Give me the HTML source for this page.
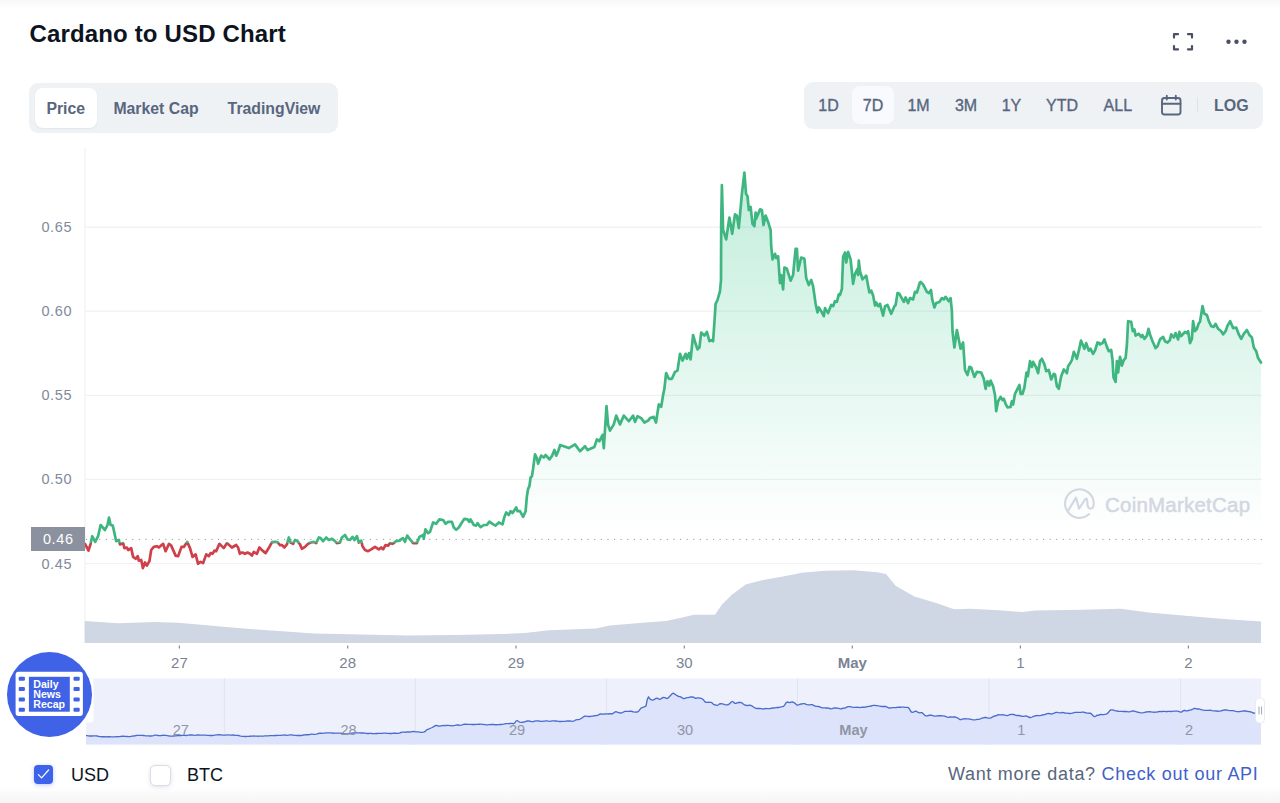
<!DOCTYPE html>
<html lang="en">
<head>
<meta charset="utf-8">
<title>Cardano to USD Chart</title>
<style>
*{box-sizing:border-box;margin:0;padding:0}
html,body{width:1280px;height:803px;overflow:hidden;background:#fff}
body{position:relative;font-family:"Liberation Sans",Arial,sans-serif;color:#0d1421}
.abs{position:absolute}
.topshade{left:0;top:0;width:1280px;height:10px;background:linear-gradient(#f8f8f8,#fff)}
.botshade{left:0;top:786px;width:1280px;height:17px;background:linear-gradient(#fff,#f5f5f5)}
h1{position:absolute;left:29.5px;top:19px;font-size:24px;line-height:30px;font-weight:700;color:#0d1421;letter-spacing:.15px;white-space:nowrap}
.tabs{left:29px;top:83px;width:309px;height:49.5px;border-radius:9px;background:#eff2f5}
.tab{position:absolute;top:5px;height:40px;line-height:42px;font-size:15.8px;font-weight:700;color:#58667e;text-align:center;white-space:nowrap;border-radius:8px}
.tab.on{background:#fff;box-shadow:0 1px 2px rgba(128,138,157,.12)}
.range{left:804px;top:81.5px;width:458.5px;height:47.5px;border-radius:9px;background:#eff2f5}
.r{position:absolute;top:4.5px;height:38px;line-height:40.4px;font-size:16px;color:#58667e;text-align:center;white-space:nowrap;border-radius:8px;transform:translateX(-50%);-webkit-text-stroke:0.35px #58667e}
.r.on{background:#f8fafd;width:42px}
.r.b{font-weight:700;-webkit-text-stroke:0}
.ylab{position:absolute;left:30px;width:53px;text-align:center;font-size:14.5px;color:#808a9d;line-height:16px;transform:translateY(-50%);letter-spacing:.65px;text-indent:.65px}
.xlab{position:absolute;top:654px;font-size:15px;color:#7a8394;line-height:18px;transform:translateX(-50%);white-space:nowrap}
.nlab{position:absolute;top:720.5px;font-size:14.6px;color:#9096a6;line-height:18px;transform:translateX(-50%);white-space:nowrap}
.tag{left:31px;top:527.3px;width:54px;height:24px;background:#8b919e;color:#fff;font-size:14.5px;line-height:24px;text-align:center;letter-spacing:.65px;text-indent:.65px}
.cb{position:absolute;width:19px;height:19px;border-radius:4px}
.cb.on{left:34px;top:765px;background:#3d63ea;box-shadow:0 1px 4px rgba(56,97,251,.35)}
.cb.off{left:149.5px;top:764.5px;width:21px;height:21px;background:#fff;border:1.5px solid #d9dcea;box-shadow:0 1px 4px rgba(128,138,157,.25);border-radius:5px}
.cl{position:absolute;top:763px;font-size:18px;line-height:24px;color:#0d1421;white-space:nowrap}
.api{position:absolute;right:21.5px;top:762px;font-size:18px;line-height:24px;color:#58667e;white-space:nowrap;letter-spacing:.7px}
.api a{color:#3f62c8;text-decoration:none}
.wm{position:absolute;left:1105px;top:492.6px;font-size:20.5px;line-height:24px;color:#d3d7e3;white-space:nowrap;letter-spacing:.22px;-webkit-text-stroke:.5px #d3d7e3}
.badge{position:absolute;left:7px;top:652px;width:85px;height:85px;border-radius:50%;background:#3f62e6}
.badge .txt{position:absolute;left:26.3px;top:27px;font-size:10.6px;line-height:10px;font-weight:700;color:#fff;white-space:nowrap}
</style>
</head>
<body>
<div class="abs topshade"></div>
<div class="abs botshade"></div>
<h1>Cardano to USD Chart</h1>

<div class="abs tabs">
  <div class="tab on" style="left:5.5px;width:62.5px">Price</div>
  <div class="tab" style="left:77px;width:100px">Market Cap</div>
  <div class="tab" style="left:190px;width:110px">TradingView</div>
</div>

<div class="abs range">
  <div class="r" style="left:24.5px">1D</div>
  <div class="r on" style="left:69px">7D</div>
  <div class="r" style="left:114.5px">1M</div>
  <div class="r" style="left:162px">3M</div>
  <div class="r" style="left:207.5px">1Y</div>
  <div class="r" style="left:258px">YTD</div>
  <div class="r" style="left:313.8px">ALL</div>
  <div class="r b" style="left:427.4px">LOG</div>
</div>

<svg class="abs" style="left:0;top:0" width="1280" height="803" viewBox="0 0 1280 803">
  <defs>
    <linearGradient id="gfill" x1="0" y1="172" x2="0" y2="532" gradientUnits="userSpaceOnUse">
      <stop offset="0" stop-color="#22c083" stop-opacity=".28"/>
      <stop offset="1" stop-color="#22c083" stop-opacity="0"/>
    </linearGradient>
    <clipPath id="up"><rect x="80" y="150" width="1190" height="393.0"/></clipPath>
    <clipPath id="dn"><rect x="80" y="543.0" width="1190" height="60"/></clipPath>
  </defs>
  <!-- fullscreen icon -->
  <g fill="none" stroke="#4a5163" stroke-width="2.2" stroke-linecap="round" stroke-linejoin="round">
    <path d="M1174,37.6 V34.2 H1178"/><path d="M1188,34.2 H1192 V37.6"/>
    <path d="M1174,46 V49.4 H1178"/><path d="M1188,49.4 H1192 V46"/>
  </g>
  <g fill="#4a5163"><circle cx="1228.5" cy="41.7" r="2.2"/><circle cx="1236.5" cy="41.7" r="2.2"/><circle cx="1244.5" cy="41.7" r="2.2"/></g>
  <!-- calendar icon -->
  <g fill="none" stroke="#58667e" stroke-width="1.9" stroke-linecap="round" stroke-linejoin="round">
    <rect x="1162" y="98" width="18.5" height="16.5" rx="2.5"/>
    <path d="M1162,103.8 H1180.5"/><path d="M1166.8,95.8 V99.5"/><path d="M1175.8,95.8 V99.5"/>
  </g>
  <path d="M1197.5,97.5 V112.5" stroke="#dfe3ea" stroke-width="1.2"/>
  <!-- grid -->
  <g stroke="#eff1f4" stroke-width="1.2">
    <path d="M85,148 V643"/>
    <path d="M85,227.2 H1262"/><path d="M85,311.2 H1262"/><path d="M85,395.4 H1262"/><path d="M85,479.4 H1262"/><path d="M85,563.6 H1262"/>
  </g>
  <!-- volume -->
  <path d="M84.7,621.0 L117.5,623.3 L155.0,622.0 L178.5,622.8 L220.6,626.6 L267.5,630.3 L314.4,633.6 L361.3,634.5 L408.0,635.5 L455.0,635.0 L502.0,634.0 L525.0,633.0 L549.0,630.3 L595.7,628.4 L609.8,625.6 L642.6,622.8 L666.0,621.0 L680.0,618.0 L694.0,614.8 L715.0,614.8 L722.0,604.5 L731.6,595.0 L745.6,584.4 L764.4,579.7 L783.0,576.4 L802.0,572.7 L825.0,570.8 L853.5,570.3 L877.0,572.2 L886.0,574.0 L895.6,585.8 L914.4,596.6 L937.8,603.6 L954.0,609.2 L970.6,608.8 L998.8,610.2 L1022.0,612.0 L1036.0,610.6 L1083.0,609.7 L1120.6,608.8 L1148.8,612.5 L1186.0,615.8 L1223.8,619.0 L1261.0,621.4 L1261,643 L84.7,643 Z" fill="#cfd6e4"/>
  <!-- area -->
  <g clip-path="url(#up)"><path d="M85.0,543.8 L88.5,550.6 L90.6,543.8 L92.2,536.2 L95.2,541.9 L98.1,536.2 L100.6,525.0 L105.0,530.0 L107.5,525.0 L109.0,517.5 L110.6,525.0 L112.8,525.6 L116.2,541.2 L118.8,540.0 L120.0,544.4 L123.1,543.1 L124.4,548.1 L126.9,547.5 L128.1,550.0 L131.2,548.1 L133.1,556.9 L135.6,558.8 L137.8,556.2 L138.8,560.6 L141.2,560.0 L142.9,568.1 L145.0,562.5 L146.9,565.6 L149.4,561.2 L151.2,550.0 L153.8,546.9 L156.9,546.2 L158.8,547.5 L163.1,543.8 L165.6,551.2 L169.0,543.8 L171.2,545.6 L175.6,555.6 L178.1,556.2 L181.5,546.9 L183.8,546.9 L187.2,541.9 L190.0,548.1 L192.5,556.9 L195.6,554.4 L198.1,563.8 L200.6,561.9 L203.1,563.1 L206.2,554.4 L208.8,556.2 L210.6,553.1 L212.5,553.8 L214.4,550.6 L216.2,551.2 L219.4,543.8 L223.8,548.1 L226.9,543.1 L231.9,547.5 L236.2,545.0 L238.1,547.5 L239.9,553.8 L240.0,553.1 L242.5,552.5 L245.0,553.8 L247.5,552.5 L250.0,553.8 L251.9,555.6 L253.8,551.9 L256.9,553.8 L259.4,547.5 L262.5,550.6 L265.6,553.1 L268.8,548.1 L271.9,542.2 L275.0,541.8 L277.5,542.0 L280.0,545.2 L281.9,545.0 L284.4,547.5 L286.9,544.4 L288.8,537.5 L290.6,542.5 L293.1,543.8 L295.0,540.0 L297.5,541.2 L300.0,544.4 L301.9,548.8 L305.0,546.9 L308.1,543.8 L310.6,542.5 L313.8,541.9 L316.2,543.1 L318.8,537.5 L320.6,538.1 L323.1,541.2 L326.2,537.5 L328.8,540.0 L331.9,538.8 L334.4,540.6 L336.9,543.1 L340.0,542.5 L341.9,537.5 L345.0,535.0 L347.5,539.4 L350.0,540.0 L352.5,536.9 L354.4,540.0 L356.9,536.2 L358.8,542.5 L361.2,540.6 L362.5,546.2 L365.0,550.0 L368.1,551.2 L371.2,549.4 L375.0,546.9 L378.8,549.4 L381.2,547.5 L383.1,549.4 L385.6,545.0 L388.1,545.6 L390.0,543.1 L392.5,543.8 L396.2,541.2 L399.9,540.6 L400.0,540.0 L403.1,538.1 L405.0,541.9 L407.2,535.6 L410.0,539.4 L413.1,543.1 L416.9,543.1 L419.4,536.9 L423.1,535.0 L423.8,538.8 L425.4,529.4 L428.1,533.1 L430.0,531.9 L433.1,522.5 L436.2,523.8 L439.4,519.4 L443.1,520.0 L445.6,523.8 L448.1,521.9 L451.9,521.9 L453.8,527.5 L456.2,529.8 L458.8,527.5 L461.9,522.5 L464.4,518.8 L467.5,519.4 L469.4,521.9 L470.6,519.4 L473.8,525.0 L476.2,525.6 L477.5,523.1 L480.6,527.2 L483.8,525.0 L486.9,525.0 L489.4,521.6 L492.5,523.8 L495.6,525.6 L498.8,522.5 L502.5,524.4 L504.4,516.9 L506.2,512.5 L508.8,515.0 L510.6,511.2 L512.5,513.1 L516.2,507.5 L517.5,511.2 L520.0,511.2 L523.1,516.9 L525.6,511.2 L526.9,496.2 L528.1,488.8 L529.4,486.2 L530.6,477.5 L531.9,476.2 L533.1,468.8 L535.0,454.4 L536.9,458.1 L538.1,463.8 L541.2,455.6 L543.8,457.5 L545.6,455.0 L549.4,459.4 L551.9,456.2 L554.4,450.0 L556.2,455.6 L558.1,451.2 L559.9,446.2 L560.0,445.0 L563.8,446.2 L568.8,448.1 L575.0,444.4 L580.0,451.2 L585.0,446.2 L587.5,450.0 L594.4,446.9 L596.9,439.4 L599.4,441.2 L602.5,435.0 L603.8,448.1 L606.5,406.2 L608.1,425.0 L610.0,430.6 L613.8,424.4 L616.2,415.6 L620.0,424.4 L623.8,415.6 L628.8,421.2 L633.1,415.6 L635.0,421.9 L637.5,416.2 L641.2,418.1 L644.4,422.5 L648.1,420.6 L650.0,418.1 L653.8,416.9 L656.0,422.5 L658.8,404.4 L661.2,406.9 L663.1,395.0 L664.4,388.8 L666.0,373.8 L666.2,373.1 L668.8,378.8 L671.9,378.8 L675.0,371.9 L677.5,370.6 L680.0,353.8 L682.5,360.6 L685.6,353.8 L686.9,358.8 L689.0,353.1 L690.6,359.4 L693.1,335.0 L695.6,343.8 L697.5,349.4 L699.4,347.5 L701.2,332.5 L704.4,335.6 L706.9,331.9 L709.4,341.2 L711.2,340.0 L713.1,341.2 L714.4,322.5 L715.6,303.8 L717.5,300.0 L720.0,291.2 L721.0,280.0 L721.2,222.5 L721.9,185.0 L723.1,230.0 L726.2,239.4 L729.4,217.5 L732.2,233.8 L735.0,214.4 L736.9,215.6 L738.8,228.1 L741.9,193.8 L744.4,172.5 L746.0,193.8 L747.5,196.2 L748.8,210.0 L750.6,206.9 L752.5,223.8 L754.4,226.2 L755.6,212.5 L756.2,218.8 L760.0,209.4 L761.9,210.0 L763.5,225.0 L765.6,215.6 L768.1,221.9 L770.2,228.8 L770.6,230.0 L771.2,246.2 L772.5,259.4 L775.0,253.8 L776.2,258.1 L778.1,256.2 L780.0,283.1 L781.2,275.0 L783.1,289.4 L784.4,267.5 L786.9,268.8 L790.6,280.6 L793.1,275.0 L795.6,248.8 L796.9,248.8 L798.1,270.6 L801.2,257.5 L804.4,258.8 L806.2,278.1 L808.8,285.0 L811.2,280.0 L813.1,286.2 L815.6,303.8 L817.5,312.5 L818.8,307.5 L821.2,311.2 L823.8,316.2 L825.0,308.1 L828.1,313.1 L831.2,305.0 L833.1,306.2 L835.0,301.2 L836.9,301.9 L838.8,294.4 L840.0,295.0 L841.9,288.8 L843.1,256.9 L845.0,252.5 L846.2,262.5 L848.1,251.9 L850.6,259.4 L853.1,283.8 L855.0,273.8 L857.5,268.8 L858.1,275.0 L858.8,260.6 L860.0,271.2 L862.5,279.4 L866.2,275.6 L869.4,292.5 L871.2,290.6 L873.1,295.6 L875.0,305.6 L876.2,302.5 L878.1,306.2 L880.0,303.8 L883.1,315.6 L885.0,306.2 L887.5,305.0 L891.2,313.8 L894.4,306.2 L895.6,305.0 L897.5,293.1 L899.4,293.8 L903.8,301.9 L905.6,297.5 L908.1,303.1 L910.0,298.1 L913.1,299.4 L915.0,291.9 L916.9,292.5 L919.9,282.5 L920.6,281.9 L923.1,284.4 L926.9,291.9 L928.8,293.1 L931.0,290.0 L932.2,299.4 L934.4,307.5 L936.2,303.1 L939.4,301.9 L941.9,298.1 L943.8,299.4 L945.6,296.9 L948.8,301.2 L950.6,298.1 L951.9,311.2 L952.5,331.2 L954.4,347.5 L956.9,330.0 L960.6,348.8 L963.1,342.5 L965.0,370.0 L967.5,375.0 L969.4,366.9 L971.2,367.5 L974.4,376.9 L976.9,371.9 L981.2,372.5 L983.8,378.8 L985.6,388.8 L987.5,381.2 L989.4,385.6 L990.6,380.6 L993.1,386.2 L995.0,395.0 L996.2,411.2 L998.1,401.2 L1000.6,396.9 L1002.5,400.0 L1003.8,398.8 L1005.6,403.8 L1007.5,407.5 L1010.6,406.9 L1011.9,401.2 L1013.1,404.4 L1015.0,393.8 L1017.5,388.8 L1019.4,385.0 L1020.6,393.8 L1022.5,393.8 L1024.4,387.5 L1026.5,372.5 L1027.8,376.2 L1030.0,361.2 L1031.9,366.9 L1033.1,361.9 L1036.2,367.5 L1038.1,373.1 L1040.0,361.2 L1041.9,358.8 L1044.4,364.4 L1046.2,371.2 L1048.8,370.0 L1051.2,379.4 L1053.8,373.8 L1055.0,374.4 L1056.9,386.2 L1058.8,388.8 L1061.2,376.2 L1063.8,369.4 L1066.9,373.1 L1068.1,366.2 L1070.6,362.5 L1071.9,360.0 L1073.8,351.9 L1076.9,358.8 L1079.4,348.1 L1081.0,340.6 L1084.4,348.8 L1086.2,343.1 L1088.8,350.6 L1090.6,348.8 L1093.1,353.8 L1095.0,350.6 L1097.5,342.5 L1099.4,343.1 L1100.0,344.4 L1102.5,343.1 L1104.4,339.4 L1106.9,346.9 L1108.8,351.2 L1111.2,350.0 L1112.5,360.0 L1113.5,377.5 L1115.6,381.9 L1116.9,361.2 L1118.1,372.5 L1120.0,356.9 L1121.9,365.6 L1123.8,360.0 L1125.6,358.1 L1126.9,345.0 L1128.1,321.2 L1131.2,321.9 L1132.8,331.2 L1134.4,329.4 L1135.6,335.6 L1138.8,333.8 L1141.2,336.9 L1142.5,335.0 L1144.4,338.8 L1146.9,335.6 L1148.5,328.8 L1150.0,334.4 L1152.5,341.2 L1155.6,348.1 L1157.5,346.2 L1160.0,339.4 L1163.1,336.9 L1165.0,341.2 L1167.5,342.5 L1170.0,340.0 L1171.2,334.4 L1173.8,337.5 L1175.6,333.1 L1178.1,339.4 L1179.4,331.9 L1181.2,336.2 L1185.0,331.9 L1186.9,333.1 L1188.1,331.2 L1190.0,343.1 L1191.9,338.8 L1193.1,321.2 L1195.0,331.2 L1196.9,328.8 L1198.8,323.1 L1200.0,321.9 L1202.5,306.2 L1204.4,313.8 L1206.9,315.0 L1208.8,321.2 L1211.2,326.2 L1213.8,326.9 L1215.6,323.8 L1218.1,328.8 L1221.2,331.2 L1223.1,334.4 L1225.6,331.2 L1227.5,325.6 L1230.2,321.2 L1233.1,328.1 L1236.2,327.5 L1238.8,334.4 L1241.2,338.8 L1243.8,333.8 L1246.9,330.0 L1249.4,335.0 L1251.9,337.5 L1253.8,347.5 L1256.2,351.2 L1258.1,358.1 L1261.0,362.5 L1261.0,543.0 L85.0,543.0 Z" fill="url(#gfill)"/></g>
  <!-- baseline dotted -->
  <path d="M86,539.4 H1262" stroke="#9096a3" stroke-width="1" stroke-dasharray="1.1 5.5"/>
  <!-- price line -->
  <g clip-path="url(#up)"><path d="M85.0,543.8 L88.5,550.6 L90.6,543.8 L92.2,536.2 L95.2,541.9 L98.1,536.2 L100.6,525.0 L105.0,530.0 L107.5,525.0 L109.0,517.5 L110.6,525.0 L112.8,525.6 L116.2,541.2 L118.8,540.0 L120.0,544.4 L123.1,543.1 L124.4,548.1 L126.9,547.5 L128.1,550.0 L131.2,548.1 L133.1,556.9 L135.6,558.8 L137.8,556.2 L138.8,560.6 L141.2,560.0 L142.9,568.1 L145.0,562.5 L146.9,565.6 L149.4,561.2 L151.2,550.0 L153.8,546.9 L156.9,546.2 L158.8,547.5 L163.1,543.8 L165.6,551.2 L169.0,543.8 L171.2,545.6 L175.6,555.6 L178.1,556.2 L181.5,546.9 L183.8,546.9 L187.2,541.9 L190.0,548.1 L192.5,556.9 L195.6,554.4 L198.1,563.8 L200.6,561.9 L203.1,563.1 L206.2,554.4 L208.8,556.2 L210.6,553.1 L212.5,553.8 L214.4,550.6 L216.2,551.2 L219.4,543.8 L223.8,548.1 L226.9,543.1 L231.9,547.5 L236.2,545.0 L238.1,547.5 L239.9,553.8 L240.0,553.1 L242.5,552.5 L245.0,553.8 L247.5,552.5 L250.0,553.8 L251.9,555.6 L253.8,551.9 L256.9,553.8 L259.4,547.5 L262.5,550.6 L265.6,553.1 L268.8,548.1 L271.9,542.2 L275.0,541.8 L277.5,542.0 L280.0,545.2 L281.9,545.0 L284.4,547.5 L286.9,544.4 L288.8,537.5 L290.6,542.5 L293.1,543.8 L295.0,540.0 L297.5,541.2 L300.0,544.4 L301.9,548.8 L305.0,546.9 L308.1,543.8 L310.6,542.5 L313.8,541.9 L316.2,543.1 L318.8,537.5 L320.6,538.1 L323.1,541.2 L326.2,537.5 L328.8,540.0 L331.9,538.8 L334.4,540.6 L336.9,543.1 L340.0,542.5 L341.9,537.5 L345.0,535.0 L347.5,539.4 L350.0,540.0 L352.5,536.9 L354.4,540.0 L356.9,536.2 L358.8,542.5 L361.2,540.6 L362.5,546.2 L365.0,550.0 L368.1,551.2 L371.2,549.4 L375.0,546.9 L378.8,549.4 L381.2,547.5 L383.1,549.4 L385.6,545.0 L388.1,545.6 L390.0,543.1 L392.5,543.8 L396.2,541.2 L399.9,540.6 L400.0,540.0 L403.1,538.1 L405.0,541.9 L407.2,535.6 L410.0,539.4 L413.1,543.1 L416.9,543.1 L419.4,536.9 L423.1,535.0 L423.8,538.8 L425.4,529.4 L428.1,533.1 L430.0,531.9 L433.1,522.5 L436.2,523.8 L439.4,519.4 L443.1,520.0 L445.6,523.8 L448.1,521.9 L451.9,521.9 L453.8,527.5 L456.2,529.8 L458.8,527.5 L461.9,522.5 L464.4,518.8 L467.5,519.4 L469.4,521.9 L470.6,519.4 L473.8,525.0 L476.2,525.6 L477.5,523.1 L480.6,527.2 L483.8,525.0 L486.9,525.0 L489.4,521.6 L492.5,523.8 L495.6,525.6 L498.8,522.5 L502.5,524.4 L504.4,516.9 L506.2,512.5 L508.8,515.0 L510.6,511.2 L512.5,513.1 L516.2,507.5 L517.5,511.2 L520.0,511.2 L523.1,516.9 L525.6,511.2 L526.9,496.2 L528.1,488.8 L529.4,486.2 L530.6,477.5 L531.9,476.2 L533.1,468.8 L535.0,454.4 L536.9,458.1 L538.1,463.8 L541.2,455.6 L543.8,457.5 L545.6,455.0 L549.4,459.4 L551.9,456.2 L554.4,450.0 L556.2,455.6 L558.1,451.2 L559.9,446.2 L560.0,445.0 L563.8,446.2 L568.8,448.1 L575.0,444.4 L580.0,451.2 L585.0,446.2 L587.5,450.0 L594.4,446.9 L596.9,439.4 L599.4,441.2 L602.5,435.0 L603.8,448.1 L606.5,406.2 L608.1,425.0 L610.0,430.6 L613.8,424.4 L616.2,415.6 L620.0,424.4 L623.8,415.6 L628.8,421.2 L633.1,415.6 L635.0,421.9 L637.5,416.2 L641.2,418.1 L644.4,422.5 L648.1,420.6 L650.0,418.1 L653.8,416.9 L656.0,422.5 L658.8,404.4 L661.2,406.9 L663.1,395.0 L664.4,388.8 L666.0,373.8 L666.2,373.1 L668.8,378.8 L671.9,378.8 L675.0,371.9 L677.5,370.6 L680.0,353.8 L682.5,360.6 L685.6,353.8 L686.9,358.8 L689.0,353.1 L690.6,359.4 L693.1,335.0 L695.6,343.8 L697.5,349.4 L699.4,347.5 L701.2,332.5 L704.4,335.6 L706.9,331.9 L709.4,341.2 L711.2,340.0 L713.1,341.2 L714.4,322.5 L715.6,303.8 L717.5,300.0 L720.0,291.2 L721.0,280.0 L721.2,222.5 L721.9,185.0 L723.1,230.0 L726.2,239.4 L729.4,217.5 L732.2,233.8 L735.0,214.4 L736.9,215.6 L738.8,228.1 L741.9,193.8 L744.4,172.5 L746.0,193.8 L747.5,196.2 L748.8,210.0 L750.6,206.9 L752.5,223.8 L754.4,226.2 L755.6,212.5 L756.2,218.8 L760.0,209.4 L761.9,210.0 L763.5,225.0 L765.6,215.6 L768.1,221.9 L770.2,228.8 L770.6,230.0 L771.2,246.2 L772.5,259.4 L775.0,253.8 L776.2,258.1 L778.1,256.2 L780.0,283.1 L781.2,275.0 L783.1,289.4 L784.4,267.5 L786.9,268.8 L790.6,280.6 L793.1,275.0 L795.6,248.8 L796.9,248.8 L798.1,270.6 L801.2,257.5 L804.4,258.8 L806.2,278.1 L808.8,285.0 L811.2,280.0 L813.1,286.2 L815.6,303.8 L817.5,312.5 L818.8,307.5 L821.2,311.2 L823.8,316.2 L825.0,308.1 L828.1,313.1 L831.2,305.0 L833.1,306.2 L835.0,301.2 L836.9,301.9 L838.8,294.4 L840.0,295.0 L841.9,288.8 L843.1,256.9 L845.0,252.5 L846.2,262.5 L848.1,251.9 L850.6,259.4 L853.1,283.8 L855.0,273.8 L857.5,268.8 L858.1,275.0 L858.8,260.6 L860.0,271.2 L862.5,279.4 L866.2,275.6 L869.4,292.5 L871.2,290.6 L873.1,295.6 L875.0,305.6 L876.2,302.5 L878.1,306.2 L880.0,303.8 L883.1,315.6 L885.0,306.2 L887.5,305.0 L891.2,313.8 L894.4,306.2 L895.6,305.0 L897.5,293.1 L899.4,293.8 L903.8,301.9 L905.6,297.5 L908.1,303.1 L910.0,298.1 L913.1,299.4 L915.0,291.9 L916.9,292.5 L919.9,282.5 L920.6,281.9 L923.1,284.4 L926.9,291.9 L928.8,293.1 L931.0,290.0 L932.2,299.4 L934.4,307.5 L936.2,303.1 L939.4,301.9 L941.9,298.1 L943.8,299.4 L945.6,296.9 L948.8,301.2 L950.6,298.1 L951.9,311.2 L952.5,331.2 L954.4,347.5 L956.9,330.0 L960.6,348.8 L963.1,342.5 L965.0,370.0 L967.5,375.0 L969.4,366.9 L971.2,367.5 L974.4,376.9 L976.9,371.9 L981.2,372.5 L983.8,378.8 L985.6,388.8 L987.5,381.2 L989.4,385.6 L990.6,380.6 L993.1,386.2 L995.0,395.0 L996.2,411.2 L998.1,401.2 L1000.6,396.9 L1002.5,400.0 L1003.8,398.8 L1005.6,403.8 L1007.5,407.5 L1010.6,406.9 L1011.9,401.2 L1013.1,404.4 L1015.0,393.8 L1017.5,388.8 L1019.4,385.0 L1020.6,393.8 L1022.5,393.8 L1024.4,387.5 L1026.5,372.5 L1027.8,376.2 L1030.0,361.2 L1031.9,366.9 L1033.1,361.9 L1036.2,367.5 L1038.1,373.1 L1040.0,361.2 L1041.9,358.8 L1044.4,364.4 L1046.2,371.2 L1048.8,370.0 L1051.2,379.4 L1053.8,373.8 L1055.0,374.4 L1056.9,386.2 L1058.8,388.8 L1061.2,376.2 L1063.8,369.4 L1066.9,373.1 L1068.1,366.2 L1070.6,362.5 L1071.9,360.0 L1073.8,351.9 L1076.9,358.8 L1079.4,348.1 L1081.0,340.6 L1084.4,348.8 L1086.2,343.1 L1088.8,350.6 L1090.6,348.8 L1093.1,353.8 L1095.0,350.6 L1097.5,342.5 L1099.4,343.1 L1100.0,344.4 L1102.5,343.1 L1104.4,339.4 L1106.9,346.9 L1108.8,351.2 L1111.2,350.0 L1112.5,360.0 L1113.5,377.5 L1115.6,381.9 L1116.9,361.2 L1118.1,372.5 L1120.0,356.9 L1121.9,365.6 L1123.8,360.0 L1125.6,358.1 L1126.9,345.0 L1128.1,321.2 L1131.2,321.9 L1132.8,331.2 L1134.4,329.4 L1135.6,335.6 L1138.8,333.8 L1141.2,336.9 L1142.5,335.0 L1144.4,338.8 L1146.9,335.6 L1148.5,328.8 L1150.0,334.4 L1152.5,341.2 L1155.6,348.1 L1157.5,346.2 L1160.0,339.4 L1163.1,336.9 L1165.0,341.2 L1167.5,342.5 L1170.0,340.0 L1171.2,334.4 L1173.8,337.5 L1175.6,333.1 L1178.1,339.4 L1179.4,331.9 L1181.2,336.2 L1185.0,331.9 L1186.9,333.1 L1188.1,331.2 L1190.0,343.1 L1191.9,338.8 L1193.1,321.2 L1195.0,331.2 L1196.9,328.8 L1198.8,323.1 L1200.0,321.9 L1202.5,306.2 L1204.4,313.8 L1206.9,315.0 L1208.8,321.2 L1211.2,326.2 L1213.8,326.9 L1215.6,323.8 L1218.1,328.8 L1221.2,331.2 L1223.1,334.4 L1225.6,331.2 L1227.5,325.6 L1230.2,321.2 L1233.1,328.1 L1236.2,327.5 L1238.8,334.4 L1241.2,338.8 L1243.8,333.8 L1246.9,330.0 L1249.4,335.0 L1251.9,337.5 L1253.8,347.5 L1256.2,351.2 L1258.1,358.1 L1261.0,362.5" fill="none" stroke="#3fb680" stroke-width="2.7" stroke-linejoin="round" stroke-linecap="round"/></g>
  <g clip-path="url(#dn)"><path d="M85.0,543.8 L88.5,550.6 L90.6,543.8 L92.2,536.2 L95.2,541.9 L98.1,536.2 L100.6,525.0 L105.0,530.0 L107.5,525.0 L109.0,517.5 L110.6,525.0 L112.8,525.6 L116.2,541.2 L118.8,540.0 L120.0,544.4 L123.1,543.1 L124.4,548.1 L126.9,547.5 L128.1,550.0 L131.2,548.1 L133.1,556.9 L135.6,558.8 L137.8,556.2 L138.8,560.6 L141.2,560.0 L142.9,568.1 L145.0,562.5 L146.9,565.6 L149.4,561.2 L151.2,550.0 L153.8,546.9 L156.9,546.2 L158.8,547.5 L163.1,543.8 L165.6,551.2 L169.0,543.8 L171.2,545.6 L175.6,555.6 L178.1,556.2 L181.5,546.9 L183.8,546.9 L187.2,541.9 L190.0,548.1 L192.5,556.9 L195.6,554.4 L198.1,563.8 L200.6,561.9 L203.1,563.1 L206.2,554.4 L208.8,556.2 L210.6,553.1 L212.5,553.8 L214.4,550.6 L216.2,551.2 L219.4,543.8 L223.8,548.1 L226.9,543.1 L231.9,547.5 L236.2,545.0 L238.1,547.5 L239.9,553.8 L240.0,553.1 L242.5,552.5 L245.0,553.8 L247.5,552.5 L250.0,553.8 L251.9,555.6 L253.8,551.9 L256.9,553.8 L259.4,547.5 L262.5,550.6 L265.6,553.1 L268.8,548.1 L271.9,542.2 L275.0,541.8 L277.5,542.0 L280.0,545.2 L281.9,545.0 L284.4,547.5 L286.9,544.4 L288.8,537.5 L290.6,542.5 L293.1,543.8 L295.0,540.0 L297.5,541.2 L300.0,544.4 L301.9,548.8 L305.0,546.9 L308.1,543.8 L310.6,542.5 L313.8,541.9 L316.2,543.1 L318.8,537.5 L320.6,538.1 L323.1,541.2 L326.2,537.5 L328.8,540.0 L331.9,538.8 L334.4,540.6 L336.9,543.1 L340.0,542.5 L341.9,537.5 L345.0,535.0 L347.5,539.4 L350.0,540.0 L352.5,536.9 L354.4,540.0 L356.9,536.2 L358.8,542.5 L361.2,540.6 L362.5,546.2 L365.0,550.0 L368.1,551.2 L371.2,549.4 L375.0,546.9 L378.8,549.4 L381.2,547.5 L383.1,549.4 L385.6,545.0 L388.1,545.6 L390.0,543.1 L392.5,543.8 L396.2,541.2 L399.9,540.6 L400.0,540.0 L403.1,538.1 L405.0,541.9 L407.2,535.6 L410.0,539.4 L413.1,543.1 L416.9,543.1 L419.4,536.9 L423.1,535.0 L423.8,538.8 L425.4,529.4 L428.1,533.1 L430.0,531.9 L433.1,522.5 L436.2,523.8 L439.4,519.4 L443.1,520.0 L445.6,523.8 L448.1,521.9 L451.9,521.9 L453.8,527.5 L456.2,529.8 L458.8,527.5 L461.9,522.5 L464.4,518.8 L467.5,519.4 L469.4,521.9 L470.6,519.4 L473.8,525.0 L476.2,525.6 L477.5,523.1 L480.6,527.2 L483.8,525.0 L486.9,525.0 L489.4,521.6 L492.5,523.8 L495.6,525.6 L498.8,522.5 L502.5,524.4 L504.4,516.9 L506.2,512.5 L508.8,515.0 L510.6,511.2 L512.5,513.1 L516.2,507.5 L517.5,511.2 L520.0,511.2 L523.1,516.9 L525.6,511.2 L526.9,496.2 L528.1,488.8 L529.4,486.2 L530.6,477.5 L531.9,476.2 L533.1,468.8 L535.0,454.4 L536.9,458.1 L538.1,463.8 L541.2,455.6 L543.8,457.5 L545.6,455.0 L549.4,459.4 L551.9,456.2 L554.4,450.0 L556.2,455.6 L558.1,451.2 L559.9,446.2 L560.0,445.0 L563.8,446.2 L568.8,448.1 L575.0,444.4 L580.0,451.2 L585.0,446.2 L587.5,450.0 L594.4,446.9 L596.9,439.4 L599.4,441.2 L602.5,435.0 L603.8,448.1 L606.5,406.2 L608.1,425.0 L610.0,430.6 L613.8,424.4 L616.2,415.6 L620.0,424.4 L623.8,415.6 L628.8,421.2 L633.1,415.6 L635.0,421.9 L637.5,416.2 L641.2,418.1 L644.4,422.5 L648.1,420.6 L650.0,418.1 L653.8,416.9 L656.0,422.5 L658.8,404.4 L661.2,406.9 L663.1,395.0 L664.4,388.8 L666.0,373.8 L666.2,373.1 L668.8,378.8 L671.9,378.8 L675.0,371.9 L677.5,370.6 L680.0,353.8 L682.5,360.6 L685.6,353.8 L686.9,358.8 L689.0,353.1 L690.6,359.4 L693.1,335.0 L695.6,343.8 L697.5,349.4 L699.4,347.5 L701.2,332.5 L704.4,335.6 L706.9,331.9 L709.4,341.2 L711.2,340.0 L713.1,341.2 L714.4,322.5 L715.6,303.8 L717.5,300.0 L720.0,291.2 L721.0,280.0 L721.2,222.5 L721.9,185.0 L723.1,230.0 L726.2,239.4 L729.4,217.5 L732.2,233.8 L735.0,214.4 L736.9,215.6 L738.8,228.1 L741.9,193.8 L744.4,172.5 L746.0,193.8 L747.5,196.2 L748.8,210.0 L750.6,206.9 L752.5,223.8 L754.4,226.2 L755.6,212.5 L756.2,218.8 L760.0,209.4 L761.9,210.0 L763.5,225.0 L765.6,215.6 L768.1,221.9 L770.2,228.8 L770.6,230.0 L771.2,246.2 L772.5,259.4 L775.0,253.8 L776.2,258.1 L778.1,256.2 L780.0,283.1 L781.2,275.0 L783.1,289.4 L784.4,267.5 L786.9,268.8 L790.6,280.6 L793.1,275.0 L795.6,248.8 L796.9,248.8 L798.1,270.6 L801.2,257.5 L804.4,258.8 L806.2,278.1 L808.8,285.0 L811.2,280.0 L813.1,286.2 L815.6,303.8 L817.5,312.5 L818.8,307.5 L821.2,311.2 L823.8,316.2 L825.0,308.1 L828.1,313.1 L831.2,305.0 L833.1,306.2 L835.0,301.2 L836.9,301.9 L838.8,294.4 L840.0,295.0 L841.9,288.8 L843.1,256.9 L845.0,252.5 L846.2,262.5 L848.1,251.9 L850.6,259.4 L853.1,283.8 L855.0,273.8 L857.5,268.8 L858.1,275.0 L858.8,260.6 L860.0,271.2 L862.5,279.4 L866.2,275.6 L869.4,292.5 L871.2,290.6 L873.1,295.6 L875.0,305.6 L876.2,302.5 L878.1,306.2 L880.0,303.8 L883.1,315.6 L885.0,306.2 L887.5,305.0 L891.2,313.8 L894.4,306.2 L895.6,305.0 L897.5,293.1 L899.4,293.8 L903.8,301.9 L905.6,297.5 L908.1,303.1 L910.0,298.1 L913.1,299.4 L915.0,291.9 L916.9,292.5 L919.9,282.5 L920.6,281.9 L923.1,284.4 L926.9,291.9 L928.8,293.1 L931.0,290.0 L932.2,299.4 L934.4,307.5 L936.2,303.1 L939.4,301.9 L941.9,298.1 L943.8,299.4 L945.6,296.9 L948.8,301.2 L950.6,298.1 L951.9,311.2 L952.5,331.2 L954.4,347.5 L956.9,330.0 L960.6,348.8 L963.1,342.5 L965.0,370.0 L967.5,375.0 L969.4,366.9 L971.2,367.5 L974.4,376.9 L976.9,371.9 L981.2,372.5 L983.8,378.8 L985.6,388.8 L987.5,381.2 L989.4,385.6 L990.6,380.6 L993.1,386.2 L995.0,395.0 L996.2,411.2 L998.1,401.2 L1000.6,396.9 L1002.5,400.0 L1003.8,398.8 L1005.6,403.8 L1007.5,407.5 L1010.6,406.9 L1011.9,401.2 L1013.1,404.4 L1015.0,393.8 L1017.5,388.8 L1019.4,385.0 L1020.6,393.8 L1022.5,393.8 L1024.4,387.5 L1026.5,372.5 L1027.8,376.2 L1030.0,361.2 L1031.9,366.9 L1033.1,361.9 L1036.2,367.5 L1038.1,373.1 L1040.0,361.2 L1041.9,358.8 L1044.4,364.4 L1046.2,371.2 L1048.8,370.0 L1051.2,379.4 L1053.8,373.8 L1055.0,374.4 L1056.9,386.2 L1058.8,388.8 L1061.2,376.2 L1063.8,369.4 L1066.9,373.1 L1068.1,366.2 L1070.6,362.5 L1071.9,360.0 L1073.8,351.9 L1076.9,358.8 L1079.4,348.1 L1081.0,340.6 L1084.4,348.8 L1086.2,343.1 L1088.8,350.6 L1090.6,348.8 L1093.1,353.8 L1095.0,350.6 L1097.5,342.5 L1099.4,343.1 L1100.0,344.4 L1102.5,343.1 L1104.4,339.4 L1106.9,346.9 L1108.8,351.2 L1111.2,350.0 L1112.5,360.0 L1113.5,377.5 L1115.6,381.9 L1116.9,361.2 L1118.1,372.5 L1120.0,356.9 L1121.9,365.6 L1123.8,360.0 L1125.6,358.1 L1126.9,345.0 L1128.1,321.2 L1131.2,321.9 L1132.8,331.2 L1134.4,329.4 L1135.6,335.6 L1138.8,333.8 L1141.2,336.9 L1142.5,335.0 L1144.4,338.8 L1146.9,335.6 L1148.5,328.8 L1150.0,334.4 L1152.5,341.2 L1155.6,348.1 L1157.5,346.2 L1160.0,339.4 L1163.1,336.9 L1165.0,341.2 L1167.5,342.5 L1170.0,340.0 L1171.2,334.4 L1173.8,337.5 L1175.6,333.1 L1178.1,339.4 L1179.4,331.9 L1181.2,336.2 L1185.0,331.9 L1186.9,333.1 L1188.1,331.2 L1190.0,343.1 L1191.9,338.8 L1193.1,321.2 L1195.0,331.2 L1196.9,328.8 L1198.8,323.1 L1200.0,321.9 L1202.5,306.2 L1204.4,313.8 L1206.9,315.0 L1208.8,321.2 L1211.2,326.2 L1213.8,326.9 L1215.6,323.8 L1218.1,328.8 L1221.2,331.2 L1223.1,334.4 L1225.6,331.2 L1227.5,325.6 L1230.2,321.2 L1233.1,328.1 L1236.2,327.5 L1238.8,334.4 L1241.2,338.8 L1243.8,333.8 L1246.9,330.0 L1249.4,335.0 L1251.9,337.5 L1253.8,347.5 L1256.2,351.2 L1258.1,358.1 L1261.0,362.5" fill="none" stroke="#d0404a" stroke-width="2.7" stroke-linejoin="round" stroke-linecap="round"/></g>
  <!-- x ticks -->
  <g stroke="#808a9d" stroke-width="1.2">
    <path d="M179.4,645.5 V648.5"/><path d="M347.7,645.5 V648.5"/><path d="M516,645.5 V648.5"/><path d="M684.3,645.5 V648.5"/><path d="M852.3,645.5 V648.5"/><path d="M1020.4,645.5 V648.5"/><path d="M1188.4,645.5 V648.5"/>
  </g>
  <!-- navigator -->
  <rect x="86" y="678.5" width="1175" height="66" fill="#eef1fc"/>
  <path d="M86.0,735.6 L87.2,735.7 L88.5,735.8 L89.8,736.0 L91.0,736.0 L92.2,736.0 L93.5,735.9 L94.8,735.8 L96.0,735.8 L97.2,736.0 L98.5,736.3 L99.8,736.6 L101.0,736.7 L102.2,736.7 L103.5,736.7 L104.8,736.7 L106.0,736.8 L107.2,736.7 L108.5,736.7 L109.8,736.7 L111.0,736.8 L112.2,736.9 L113.5,736.9 L114.8,736.8 L116.0,736.6 L117.2,736.7 L118.5,736.7 L119.8,736.6 L121.0,736.4 L122.2,736.2 L123.5,736.2 L124.8,736.3 L126.0,736.4 L127.2,736.5 L128.5,736.6 L129.8,736.6 L131.0,736.4 L132.2,736.2 L133.5,736.0 L134.8,735.8 L136.0,735.5 L137.2,735.4 L138.5,735.4 L139.8,735.4 L141.0,735.4 L142.2,735.4 L143.5,735.5 L144.8,735.7 L146.0,735.8 L147.2,735.8 L148.5,735.8 L149.8,736.0 L151.0,736.0 L152.2,735.8 L153.5,735.6 L154.8,735.2 L156.0,735.1 L157.2,735.3 L158.5,735.5 L159.8,735.6 L161.0,735.5 L162.2,735.3 L163.5,735.2 L164.8,735.3 L166.0,735.4 L167.2,735.6 L168.5,735.8 L169.8,736.0 L171.0,736.1 L172.2,736.1 L173.5,736.0 L174.8,735.9 L176.0,735.8 L177.2,735.7 L178.5,735.6 L179.8,735.5 L181.0,735.5 L182.2,735.4 L183.5,735.4 L184.8,735.4 L186.0,735.5 L187.2,735.4 L188.5,735.2 L189.8,735.0 L191.0,734.9 L192.2,735.0 L193.5,735.2 L194.8,735.3 L196.0,735.2 L197.2,735.0 L198.5,735.0 L199.8,735.1 L201.0,735.1 L202.2,735.1 L203.5,735.1 L204.8,735.1 L206.0,735.2 L207.2,735.3 L208.5,735.4 L209.8,735.5 L211.0,735.5 L212.2,735.5 L213.5,735.4 L214.8,735.2 L216.0,734.9 L217.2,734.8 L218.5,734.7 L219.8,734.7 L221.0,734.9 L222.2,735.1 L223.5,735.1 L224.8,735.2 L226.0,735.1 L227.2,734.9 L228.5,734.9 L229.8,735.1 L231.0,735.1 L232.2,734.9 L233.5,735.0 L234.8,735.3 L236.0,735.4 L237.2,735.3 L238.5,735.5 L239.8,735.9 L241.0,736.2 L242.2,736.3 L243.5,736.4 L244.8,736.5 L246.0,736.5 L247.2,736.4 L248.5,736.3 L249.8,736.2 L251.0,736.2 L252.2,736.1 L253.5,736.0 L254.8,736.1 L256.0,736.1 L257.2,736.2 L258.5,736.2 L259.8,736.1 L261.0,736.1 L262.2,736.2 L263.5,736.1 L264.8,735.9 L266.0,735.8 L267.2,735.8 L268.5,735.8 L269.8,735.7 L271.0,735.6 L272.2,735.6 L273.5,735.6 L274.8,735.5 L276.0,735.5 L277.2,735.4 L278.5,735.3 L279.8,735.3 L281.0,735.3 L282.2,735.2 L283.5,735.1 L284.8,735.0 L286.0,735.1 L287.2,735.3 L288.5,735.2 L289.8,734.9 L291.0,734.8 L292.2,735.0 L293.5,735.1 L294.8,735.3 L296.0,735.4 L297.2,735.5 L298.5,735.5 L299.8,735.5 L301.0,735.5 L302.2,735.3 L303.5,735.0 L304.8,734.8 L306.0,734.7 L307.2,734.7 L308.5,734.7 L309.8,734.6 L311.0,734.1 L312.2,734.1 L313.5,734.3 L314.8,734.3 L316.0,734.2 L317.2,733.9 L318.5,733.5 L319.8,733.2 L321.0,733.2 L322.2,733.3 L323.5,733.2 L324.8,733.1 L326.0,732.9 L327.2,732.8 L328.5,732.8 L329.8,732.8 L331.0,732.9 L332.2,733.0 L333.5,733.2 L334.8,733.2 L336.0,733.1 L337.2,733.1 L338.5,733.1 L339.8,733.1 L341.0,733.2 L342.2,733.5 L343.5,733.7 L344.8,733.9 L346.0,734.0 L347.2,733.9 L348.5,733.8 L349.8,733.6 L351.0,733.4 L352.2,733.2 L353.5,733.0 L354.8,732.8 L356.0,732.7 L357.2,732.8 L358.5,732.8 L359.8,732.9 L361.0,733.0 L362.2,732.9 L363.5,733.0 L364.8,733.2 L366.0,733.4 L367.2,733.5 L368.5,733.5 L369.8,733.4 L371.0,733.3 L372.2,733.5 L373.5,733.6 L374.8,733.6 L376.0,733.5 L377.2,733.5 L378.5,733.4 L379.8,733.4 L381.0,733.4 L382.2,733.3 L383.5,733.1 L384.8,733.1 L386.0,733.2 L387.2,733.3 L388.5,733.4 L389.8,733.5 L391.0,733.5 L392.2,733.4 L393.5,733.2 L394.8,733.2 L396.0,733.2 L397.2,733.3 L398.5,733.3 L399.8,732.9 L401.0,732.5 L402.2,732.2 L403.5,732.1 L404.8,732.2 L406.0,732.2 L407.2,732.0 L408.5,731.9 L409.8,732.0 L411.0,731.9 L412.2,731.7 L413.5,731.5 L414.8,731.6 L416.0,731.8 L417.2,731.9 L418.5,731.9 L419.8,732.1 L421.0,732.3 L422.2,732.4 L423.5,732.2 L424.8,731.7 L426.0,730.6 L427.2,729.6 L428.5,729.1 L429.8,728.5 L431.0,728.0 L432.2,727.5 L433.5,726.8 L434.8,725.9 L436.0,725.5 L437.2,725.6 L438.5,726.0 L439.8,726.1 L441.0,725.8 L442.2,725.6 L443.5,725.5 L444.8,725.6 L446.0,725.5 L447.2,725.4 L448.5,725.4 L449.8,725.6 L451.0,725.7 L452.2,725.8 L453.5,725.6 L454.8,725.4 L456.0,725.1 L457.2,724.9 L458.5,725.0 L459.8,725.3 L461.0,725.1 L462.2,724.8 L463.5,724.4 L464.8,724.2 L466.0,724.2 L467.2,724.3 L468.5,724.3 L469.8,724.4 L471.0,724.4 L472.2,724.5 L473.5,724.5 L474.8,724.5 L476.0,724.4 L477.2,724.3 L478.5,724.2 L479.8,724.2 L481.0,724.1 L482.2,724.3 L483.5,724.4 L484.8,724.6 L486.0,724.8 L487.2,724.8 L488.5,724.7 L489.8,724.6 L491.0,724.5 L492.2,724.4 L493.5,724.5 L494.8,724.7 L496.0,724.7 L497.2,724.7 L498.5,724.6 L499.8,724.5 L501.0,724.5 L502.2,724.4 L503.5,724.2 L504.8,723.9 L506.0,723.6 L507.2,723.6 L508.5,723.7 L509.8,723.5 L511.0,723.3 L512.2,723.3 L513.5,723.8 L514.8,722.9 L516.0,721.0 L517.2,720.5 L518.5,721.5 L519.8,722.2 L521.0,722.4 L522.2,722.3 L523.5,722.0 L524.8,721.8 L526.0,721.4 L527.2,721.0 L528.5,720.9 L529.8,721.2 L531.0,721.5 L532.2,721.6 L533.5,721.5 L534.8,721.2 L536.0,720.9 L537.2,720.9 L538.5,721.0 L539.8,721.1 L541.0,721.3 L542.2,721.3 L543.5,721.2 L544.8,721.1 L546.0,720.9 L547.2,720.9 L548.5,721.2 L549.8,721.3 L551.0,721.1 L552.2,720.9 L553.5,720.9 L554.8,721.0 L556.0,721.0 L557.2,721.2 L558.5,721.4 L559.8,721.5 L561.0,721.5 L562.2,721.4 L563.5,721.4 L564.8,721.3 L566.0,721.1 L567.2,721.0 L568.5,721.0 L569.8,720.9 L571.0,721.1 L572.2,721.3 L573.5,721.2 L574.8,720.5 L576.0,719.8 L577.2,719.6 L578.5,719.6 L579.8,719.3 L581.0,718.5 L582.2,717.8 L583.5,716.8 L584.8,716.1 L586.0,716.1 L587.2,716.4 L588.5,716.5 L589.8,716.5 L591.0,716.4 L592.2,716.2 L593.5,716.0 L594.8,715.7 L596.0,715.6 L597.2,715.5 L598.5,714.9 L599.8,714.1 L601.0,713.8 L602.2,714.1 L603.5,714.2 L604.8,714.0 L606.0,713.8 L607.2,713.8 L608.5,714.0 L609.8,713.7 L611.0,713.7 L612.2,713.9 L613.5,713.2 L614.8,712.1 L616.0,711.7 L617.2,712.1 L618.5,712.5 L619.8,712.9 L621.0,713.0 L622.2,712.7 L623.5,712.0 L624.8,711.3 L626.0,711.3 L627.2,711.4 L628.5,711.4 L629.8,711.2 L631.0,711.2 L632.2,711.5 L633.5,711.9 L634.8,712.1 L636.0,712.0 L637.2,712.1 L638.5,711.3 L639.8,709.6 L641.0,708.1 L642.2,707.5 L643.5,707.2 L644.8,706.7 L646.0,706.0 L647.2,699.8 L648.5,696.8 L649.8,698.8 L651.0,699.7 L652.2,700.1 L653.5,699.9 L654.8,699.1 L656.0,698.3 L657.2,698.2 L658.5,698.9 L659.8,699.3 L661.0,698.8 L662.2,697.9 L663.5,697.5 L664.8,697.6 L666.0,698.2 L667.2,698.5 L668.5,697.6 L669.8,696.2 L671.0,694.9 L672.2,693.7 L673.5,693.2 L674.8,694.1 L676.0,695.0 L677.2,695.6 L678.5,696.5 L679.8,696.7 L681.0,697.0 L682.2,697.9 L683.5,698.6 L684.8,698.5 L686.0,697.9 L687.2,697.6 L688.5,697.6 L689.8,697.2 L691.0,697.0 L692.2,696.9 L693.5,697.1 L694.8,698.0 L696.0,698.3 L697.2,697.9 L698.5,697.8 L699.8,698.1 L701.0,698.4 L702.2,698.8 L703.5,699.9 L704.8,701.6 L706.0,702.4 L707.2,702.3 L708.5,702.2 L709.8,702.4 L711.0,702.4 L712.2,703.0 L713.5,704.4 L714.8,704.9 L716.0,705.0 L717.2,705.5 L718.5,704.7 L719.8,703.7 L721.0,703.7 L722.2,703.9 L723.5,704.2 L724.8,704.6 L726.0,704.9 L727.2,704.9 L728.5,704.5 L729.8,703.6 L731.0,702.3 L732.2,701.5 L733.5,702.1 L734.8,703.4 L736.0,703.4 L737.2,702.9 L738.5,702.5 L739.8,702.5 L741.0,702.5 L742.2,703.1 L743.5,704.2 L744.8,705.0 L746.0,705.4 L747.2,705.5 L748.5,705.3 L749.8,705.2 L751.0,705.5 L752.2,706.1 L753.5,707.0 L754.8,707.8 L756.0,708.4 L757.2,708.5 L758.5,708.4 L759.8,708.5 L761.0,708.7 L762.2,708.9 L763.5,709.0 L764.8,708.7 L766.0,708.4 L767.2,708.6 L768.5,708.7 L769.8,708.6 L771.0,708.3 L772.2,708.0 L773.5,708.0 L774.8,707.9 L776.0,707.7 L777.2,707.5 L778.5,707.5 L779.8,707.2 L781.0,706.8 L782.2,706.7 L783.5,706.4 L784.8,704.9 L786.0,702.8 L787.2,702.0 L788.5,702.3 L789.8,702.6 L791.0,702.2 L792.2,702.0 L793.5,702.4 L794.8,703.1 L796.0,704.2 L797.2,705.1 L798.5,704.8 L799.8,704.3 L801.0,704.0 L802.2,703.9 L803.5,703.6 L804.8,703.7 L806.0,704.3 L807.2,704.7 L808.5,704.9 L809.8,704.8 L811.0,704.6 L812.2,704.7 L813.5,705.3 L814.8,705.9 L816.0,706.3 L817.2,706.3 L818.5,706.5 L819.8,706.8 L821.0,707.4 L822.2,707.8 L823.5,707.8 L824.8,707.9 L826.0,708.0 L827.2,707.9 L828.5,708.1 L829.8,708.5 L831.0,708.9 L832.2,708.7 L833.5,708.2 L834.8,708.0 L836.0,708.0 L837.2,708.1 L838.5,708.4 L839.8,708.7 L841.0,708.8 L842.2,708.5 L843.5,708.2 L844.8,708.0 L846.0,707.6 L847.2,706.9 L848.5,706.6 L849.8,706.7 L851.0,706.8 L852.2,707.1 L853.5,707.3 L854.8,707.4 L856.0,707.3 L857.2,707.2 L858.5,707.4 L859.8,707.6 L861.0,707.4 L862.2,707.2 L863.5,707.2 L864.8,707.2 L866.0,707.0 L867.2,706.6 L868.5,706.4 L869.8,706.4 L871.0,706.0 L872.2,705.6 L873.5,705.3 L874.8,705.3 L876.0,705.5 L877.2,705.6 L878.5,705.9 L879.8,706.1 L881.0,706.4 L882.2,706.5 L883.5,706.5 L884.8,706.3 L886.0,706.5 L887.2,707.2 L888.5,707.8 L889.8,708.0 L891.0,707.9 L892.2,707.7 L893.5,707.6 L894.8,707.6 L896.0,707.5 L897.2,707.3 L898.5,707.2 L899.8,707.2 L901.0,707.2 L902.2,707.1 L903.5,707.1 L904.8,707.3 L906.0,707.4 L907.2,707.3 L908.5,707.7 L909.8,709.6 L911.0,711.6 L912.2,712.4 L913.5,712.1 L914.8,711.3 L916.0,711.2 L917.2,711.9 L918.5,712.5 L919.8,712.8 L921.0,712.6 L922.2,712.7 L923.5,714.1 L924.8,715.3 L926.0,715.8 L927.2,715.9 L928.5,715.5 L929.8,715.2 L931.0,715.2 L932.2,715.4 L933.5,715.8 L934.8,716.1 L936.0,716.1 L937.2,715.8 L938.5,715.7 L939.8,715.7 L941.0,715.7 L942.2,715.8 L943.5,715.9 L944.8,716.2 L946.0,716.7 L947.2,717.2 L948.5,717.3 L949.8,717.0 L951.0,717.0 L952.2,717.1 L953.5,716.9 L954.8,717.0 L956.0,717.3 L957.2,717.7 L958.5,718.5 L959.8,719.6 L961.0,719.7 L962.2,719.1 L963.5,718.8 L964.8,718.7 L966.0,718.8 L967.2,718.9 L968.5,718.9 L969.8,719.1 L971.0,719.4 L972.2,719.7 L973.5,719.8 L974.8,719.8 L976.0,719.7 L977.2,719.4 L978.5,719.3 L979.8,719.1 L981.0,718.5 L982.2,718.0 L983.5,717.8 L984.8,717.5 L986.0,717.4 L987.2,717.8 L988.5,718.2 L989.8,718.1 L991.0,717.8 L992.2,717.2 L993.5,716.4 L994.8,716.0 L996.0,715.9 L997.2,715.2 L998.5,714.7 L999.8,714.9 L1001.0,714.8 L1002.2,714.7 L1003.5,714.8 L1004.8,715.1 L1006.0,715.4 L1007.2,715.6 L1008.5,715.2 L1009.8,714.6 L1011.0,714.3 L1012.2,714.3 L1013.5,714.5 L1014.8,714.9 L1016.0,715.3 L1017.2,715.5 L1018.5,715.5 L1019.8,715.6 L1021.0,716.0 L1022.2,716.3 L1023.5,716.3 L1024.8,716.1 L1026.0,716.0 L1027.2,716.3 L1028.5,717.0 L1029.8,717.5 L1031.0,717.5 L1032.2,717.0 L1033.5,716.4 L1034.8,716.0 L1036.0,715.6 L1037.2,715.5 L1038.5,715.6 L1039.8,715.7 L1041.0,715.4 L1042.2,715.0 L1043.5,714.8 L1044.8,714.5 L1046.0,714.2 L1047.2,713.7 L1048.5,713.5 L1049.8,713.7 L1051.0,714.0 L1052.2,713.9 L1053.5,713.4 L1054.8,712.8 L1056.0,712.3 L1057.2,712.3 L1058.5,712.6 L1059.8,712.8 L1061.0,712.8 L1062.2,712.5 L1063.5,712.7 L1064.8,713.0 L1066.0,713.1 L1067.2,713.1 L1068.5,713.3 L1069.8,713.5 L1071.0,713.4 L1072.2,713.2 L1073.5,712.8 L1074.8,712.4 L1076.0,712.3 L1077.2,712.4 L1078.5,712.4 L1079.8,712.4 L1081.0,712.3 L1082.2,712.1 L1083.5,712.1 L1084.8,712.5 L1086.0,712.8 L1087.2,713.1 L1088.5,713.2 L1089.8,713.2 L1091.0,713.5 L1092.2,714.7 L1093.5,716.1 L1094.8,716.6 L1096.0,716.0 L1097.2,715.1 L1098.5,715.3 L1099.8,714.7 L1101.0,714.3 L1102.2,714.6 L1103.5,714.7 L1104.8,714.4 L1106.0,714.2 L1107.2,713.7 L1108.5,712.3 L1109.8,710.6 L1111.0,709.8 L1112.2,709.9 L1113.5,710.1 L1114.8,710.6 L1116.0,710.9 L1117.2,711.0 L1118.5,711.3 L1119.8,711.4 L1121.0,711.3 L1122.2,711.3 L1123.5,711.5 L1124.8,711.5 L1126.0,711.5 L1127.2,711.6 L1128.5,711.8 L1129.8,711.7 L1131.0,711.5 L1132.2,711.0 L1133.5,710.9 L1134.8,711.3 L1136.0,711.7 L1137.2,712.0 L1138.5,712.3 L1139.8,712.6 L1141.0,712.8 L1142.2,712.8 L1143.5,712.6 L1144.8,712.3 L1146.0,712.0 L1147.2,711.8 L1148.5,711.7 L1149.8,711.7 L1151.0,711.9 L1152.2,712.1 L1153.5,712.2 L1154.8,712.2 L1156.0,712.1 L1157.2,712.0 L1158.5,711.6 L1159.8,711.4 L1161.0,711.6 L1162.2,711.5 L1163.5,711.4 L1164.8,711.4 L1166.0,711.7 L1167.2,711.5 L1168.5,711.3 L1169.8,711.4 L1171.0,711.5 L1172.2,711.3 L1173.5,711.2 L1174.8,711.1 L1176.0,711.1 L1177.2,711.1 L1178.5,711.3 L1179.8,711.9 L1181.0,712.2 L1182.2,711.6 L1183.5,710.6 L1184.8,710.3 L1186.0,710.8 L1187.2,710.8 L1188.5,710.5 L1189.8,710.2 L1191.0,709.9 L1192.2,709.5 L1193.5,708.7 L1194.8,708.4 L1196.0,708.7 L1197.2,709.0 L1198.5,709.0 L1199.8,709.2 L1201.0,709.6 L1202.2,709.9 L1203.5,710.2 L1204.8,710.4 L1206.0,710.4 L1207.2,710.4 L1208.5,710.3 L1209.8,710.2 L1211.0,710.4 L1212.2,710.7 L1213.5,710.8 L1214.8,710.9 L1216.0,711.0 L1217.2,711.2 L1218.5,711.2 L1219.8,711.1 L1221.0,710.9 L1222.2,710.5 L1223.5,710.2 L1224.8,710.0 L1226.0,709.9 L1227.2,710.1 L1228.5,710.4 L1229.8,710.6 L1231.0,710.6 L1232.2,710.6 L1233.5,710.7 L1234.8,711.1 L1236.0,711.4 L1237.2,711.6 L1238.5,711.7 L1239.8,711.6 L1241.0,711.4 L1242.2,711.2 L1243.5,711.0 L1244.8,710.9 L1246.0,711.0 L1247.2,711.3 L1248.5,711.5 L1249.8,711.6 L1251.0,712.0 L1252.2,712.5 L1253.5,713.0 L1254.8,713.2 L1256.0,713.5 L1257.2,713.9 L1258.5,714.2 L1259.8,714.4 L1261.0,714.6 L1261,744.5 L86,744.5 Z" fill="#dde3fa"/>
  <g stroke="#e0e3f0" stroke-width="1">
    <path d="M224.4,678.5 V744.5"/><path d="M415.4,678.5 V744.5"/><path d="M606.5,678.5 V744.5"/><path d="M797.5,678.5 V744.5"/><path d="M989,678.5 V744.5"/><path d="M1180.6,678.5 V744.5"/>
  </g>
  <path d="M86.0,735.6 L87.2,735.7 L88.5,735.8 L89.8,736.0 L91.0,736.0 L92.2,736.0 L93.5,735.9 L94.8,735.8 L96.0,735.8 L97.2,736.0 L98.5,736.3 L99.8,736.6 L101.0,736.7 L102.2,736.7 L103.5,736.7 L104.8,736.7 L106.0,736.8 L107.2,736.7 L108.5,736.7 L109.8,736.7 L111.0,736.8 L112.2,736.9 L113.5,736.9 L114.8,736.8 L116.0,736.6 L117.2,736.7 L118.5,736.7 L119.8,736.6 L121.0,736.4 L122.2,736.2 L123.5,736.2 L124.8,736.3 L126.0,736.4 L127.2,736.5 L128.5,736.6 L129.8,736.6 L131.0,736.4 L132.2,736.2 L133.5,736.0 L134.8,735.8 L136.0,735.5 L137.2,735.4 L138.5,735.4 L139.8,735.4 L141.0,735.4 L142.2,735.4 L143.5,735.5 L144.8,735.7 L146.0,735.8 L147.2,735.8 L148.5,735.8 L149.8,736.0 L151.0,736.0 L152.2,735.8 L153.5,735.6 L154.8,735.2 L156.0,735.1 L157.2,735.3 L158.5,735.5 L159.8,735.6 L161.0,735.5 L162.2,735.3 L163.5,735.2 L164.8,735.3 L166.0,735.4 L167.2,735.6 L168.5,735.8 L169.8,736.0 L171.0,736.1 L172.2,736.1 L173.5,736.0 L174.8,735.9 L176.0,735.8 L177.2,735.7 L178.5,735.6 L179.8,735.5 L181.0,735.5 L182.2,735.4 L183.5,735.4 L184.8,735.4 L186.0,735.5 L187.2,735.4 L188.5,735.2 L189.8,735.0 L191.0,734.9 L192.2,735.0 L193.5,735.2 L194.8,735.3 L196.0,735.2 L197.2,735.0 L198.5,735.0 L199.8,735.1 L201.0,735.1 L202.2,735.1 L203.5,735.1 L204.8,735.1 L206.0,735.2 L207.2,735.3 L208.5,735.4 L209.8,735.5 L211.0,735.5 L212.2,735.5 L213.5,735.4 L214.8,735.2 L216.0,734.9 L217.2,734.8 L218.5,734.7 L219.8,734.7 L221.0,734.9 L222.2,735.1 L223.5,735.1 L224.8,735.2 L226.0,735.1 L227.2,734.9 L228.5,734.9 L229.8,735.1 L231.0,735.1 L232.2,734.9 L233.5,735.0 L234.8,735.3 L236.0,735.4 L237.2,735.3 L238.5,735.5 L239.8,735.9 L241.0,736.2 L242.2,736.3 L243.5,736.4 L244.8,736.5 L246.0,736.5 L247.2,736.4 L248.5,736.3 L249.8,736.2 L251.0,736.2 L252.2,736.1 L253.5,736.0 L254.8,736.1 L256.0,736.1 L257.2,736.2 L258.5,736.2 L259.8,736.1 L261.0,736.1 L262.2,736.2 L263.5,736.1 L264.8,735.9 L266.0,735.8 L267.2,735.8 L268.5,735.8 L269.8,735.7 L271.0,735.6 L272.2,735.6 L273.5,735.6 L274.8,735.5 L276.0,735.5 L277.2,735.4 L278.5,735.3 L279.8,735.3 L281.0,735.3 L282.2,735.2 L283.5,735.1 L284.8,735.0 L286.0,735.1 L287.2,735.3 L288.5,735.2 L289.8,734.9 L291.0,734.8 L292.2,735.0 L293.5,735.1 L294.8,735.3 L296.0,735.4 L297.2,735.5 L298.5,735.5 L299.8,735.5 L301.0,735.5 L302.2,735.3 L303.5,735.0 L304.8,734.8 L306.0,734.7 L307.2,734.7 L308.5,734.7 L309.8,734.6 L311.0,734.1 L312.2,734.1 L313.5,734.3 L314.8,734.3 L316.0,734.2 L317.2,733.9 L318.5,733.5 L319.8,733.2 L321.0,733.2 L322.2,733.3 L323.5,733.2 L324.8,733.1 L326.0,732.9 L327.2,732.8 L328.5,732.8 L329.8,732.8 L331.0,732.9 L332.2,733.0 L333.5,733.2 L334.8,733.2 L336.0,733.1 L337.2,733.1 L338.5,733.1 L339.8,733.1 L341.0,733.2 L342.2,733.5 L343.5,733.7 L344.8,733.9 L346.0,734.0 L347.2,733.9 L348.5,733.8 L349.8,733.6 L351.0,733.4 L352.2,733.2 L353.5,733.0 L354.8,732.8 L356.0,732.7 L357.2,732.8 L358.5,732.8 L359.8,732.9 L361.0,733.0 L362.2,732.9 L363.5,733.0 L364.8,733.2 L366.0,733.4 L367.2,733.5 L368.5,733.5 L369.8,733.4 L371.0,733.3 L372.2,733.5 L373.5,733.6 L374.8,733.6 L376.0,733.5 L377.2,733.5 L378.5,733.4 L379.8,733.4 L381.0,733.4 L382.2,733.3 L383.5,733.1 L384.8,733.1 L386.0,733.2 L387.2,733.3 L388.5,733.4 L389.8,733.5 L391.0,733.5 L392.2,733.4 L393.5,733.2 L394.8,733.2 L396.0,733.2 L397.2,733.3 L398.5,733.3 L399.8,732.9 L401.0,732.5 L402.2,732.2 L403.5,732.1 L404.8,732.2 L406.0,732.2 L407.2,732.0 L408.5,731.9 L409.8,732.0 L411.0,731.9 L412.2,731.7 L413.5,731.5 L414.8,731.6 L416.0,731.8 L417.2,731.9 L418.5,731.9 L419.8,732.1 L421.0,732.3 L422.2,732.4 L423.5,732.2 L424.8,731.7 L426.0,730.6 L427.2,729.6 L428.5,729.1 L429.8,728.5 L431.0,728.0 L432.2,727.5 L433.5,726.8 L434.8,725.9 L436.0,725.5 L437.2,725.6 L438.5,726.0 L439.8,726.1 L441.0,725.8 L442.2,725.6 L443.5,725.5 L444.8,725.6 L446.0,725.5 L447.2,725.4 L448.5,725.4 L449.8,725.6 L451.0,725.7 L452.2,725.8 L453.5,725.6 L454.8,725.4 L456.0,725.1 L457.2,724.9 L458.5,725.0 L459.8,725.3 L461.0,725.1 L462.2,724.8 L463.5,724.4 L464.8,724.2 L466.0,724.2 L467.2,724.3 L468.5,724.3 L469.8,724.4 L471.0,724.4 L472.2,724.5 L473.5,724.5 L474.8,724.5 L476.0,724.4 L477.2,724.3 L478.5,724.2 L479.8,724.2 L481.0,724.1 L482.2,724.3 L483.5,724.4 L484.8,724.6 L486.0,724.8 L487.2,724.8 L488.5,724.7 L489.8,724.6 L491.0,724.5 L492.2,724.4 L493.5,724.5 L494.8,724.7 L496.0,724.7 L497.2,724.7 L498.5,724.6 L499.8,724.5 L501.0,724.5 L502.2,724.4 L503.5,724.2 L504.8,723.9 L506.0,723.6 L507.2,723.6 L508.5,723.7 L509.8,723.5 L511.0,723.3 L512.2,723.3 L513.5,723.8 L514.8,722.9 L516.0,721.0 L517.2,720.5 L518.5,721.5 L519.8,722.2 L521.0,722.4 L522.2,722.3 L523.5,722.0 L524.8,721.8 L526.0,721.4 L527.2,721.0 L528.5,720.9 L529.8,721.2 L531.0,721.5 L532.2,721.6 L533.5,721.5 L534.8,721.2 L536.0,720.9 L537.2,720.9 L538.5,721.0 L539.8,721.1 L541.0,721.3 L542.2,721.3 L543.5,721.2 L544.8,721.1 L546.0,720.9 L547.2,720.9 L548.5,721.2 L549.8,721.3 L551.0,721.1 L552.2,720.9 L553.5,720.9 L554.8,721.0 L556.0,721.0 L557.2,721.2 L558.5,721.4 L559.8,721.5 L561.0,721.5 L562.2,721.4 L563.5,721.4 L564.8,721.3 L566.0,721.1 L567.2,721.0 L568.5,721.0 L569.8,720.9 L571.0,721.1 L572.2,721.3 L573.5,721.2 L574.8,720.5 L576.0,719.8 L577.2,719.6 L578.5,719.6 L579.8,719.3 L581.0,718.5 L582.2,717.8 L583.5,716.8 L584.8,716.1 L586.0,716.1 L587.2,716.4 L588.5,716.5 L589.8,716.5 L591.0,716.4 L592.2,716.2 L593.5,716.0 L594.8,715.7 L596.0,715.6 L597.2,715.5 L598.5,714.9 L599.8,714.1 L601.0,713.8 L602.2,714.1 L603.5,714.2 L604.8,714.0 L606.0,713.8 L607.2,713.8 L608.5,714.0 L609.8,713.7 L611.0,713.7 L612.2,713.9 L613.5,713.2 L614.8,712.1 L616.0,711.7 L617.2,712.1 L618.5,712.5 L619.8,712.9 L621.0,713.0 L622.2,712.7 L623.5,712.0 L624.8,711.3 L626.0,711.3 L627.2,711.4 L628.5,711.4 L629.8,711.2 L631.0,711.2 L632.2,711.5 L633.5,711.9 L634.8,712.1 L636.0,712.0 L637.2,712.1 L638.5,711.3 L639.8,709.6 L641.0,708.1 L642.2,707.5 L643.5,707.2 L644.8,706.7 L646.0,706.0 L647.2,699.8 L648.5,696.8 L649.8,698.8 L651.0,699.7 L652.2,700.1 L653.5,699.9 L654.8,699.1 L656.0,698.3 L657.2,698.2 L658.5,698.9 L659.8,699.3 L661.0,698.8 L662.2,697.9 L663.5,697.5 L664.8,697.6 L666.0,698.2 L667.2,698.5 L668.5,697.6 L669.8,696.2 L671.0,694.9 L672.2,693.7 L673.5,693.2 L674.8,694.1 L676.0,695.0 L677.2,695.6 L678.5,696.5 L679.8,696.7 L681.0,697.0 L682.2,697.9 L683.5,698.6 L684.8,698.5 L686.0,697.9 L687.2,697.6 L688.5,697.6 L689.8,697.2 L691.0,697.0 L692.2,696.9 L693.5,697.1 L694.8,698.0 L696.0,698.3 L697.2,697.9 L698.5,697.8 L699.8,698.1 L701.0,698.4 L702.2,698.8 L703.5,699.9 L704.8,701.6 L706.0,702.4 L707.2,702.3 L708.5,702.2 L709.8,702.4 L711.0,702.4 L712.2,703.0 L713.5,704.4 L714.8,704.9 L716.0,705.0 L717.2,705.5 L718.5,704.7 L719.8,703.7 L721.0,703.7 L722.2,703.9 L723.5,704.2 L724.8,704.6 L726.0,704.9 L727.2,704.9 L728.5,704.5 L729.8,703.6 L731.0,702.3 L732.2,701.5 L733.5,702.1 L734.8,703.4 L736.0,703.4 L737.2,702.9 L738.5,702.5 L739.8,702.5 L741.0,702.5 L742.2,703.1 L743.5,704.2 L744.8,705.0 L746.0,705.4 L747.2,705.5 L748.5,705.3 L749.8,705.2 L751.0,705.5 L752.2,706.1 L753.5,707.0 L754.8,707.8 L756.0,708.4 L757.2,708.5 L758.5,708.4 L759.8,708.5 L761.0,708.7 L762.2,708.9 L763.5,709.0 L764.8,708.7 L766.0,708.4 L767.2,708.6 L768.5,708.7 L769.8,708.6 L771.0,708.3 L772.2,708.0 L773.5,708.0 L774.8,707.9 L776.0,707.7 L777.2,707.5 L778.5,707.5 L779.8,707.2 L781.0,706.8 L782.2,706.7 L783.5,706.4 L784.8,704.9 L786.0,702.8 L787.2,702.0 L788.5,702.3 L789.8,702.6 L791.0,702.2 L792.2,702.0 L793.5,702.4 L794.8,703.1 L796.0,704.2 L797.2,705.1 L798.5,704.8 L799.8,704.3 L801.0,704.0 L802.2,703.9 L803.5,703.6 L804.8,703.7 L806.0,704.3 L807.2,704.7 L808.5,704.9 L809.8,704.8 L811.0,704.6 L812.2,704.7 L813.5,705.3 L814.8,705.9 L816.0,706.3 L817.2,706.3 L818.5,706.5 L819.8,706.8 L821.0,707.4 L822.2,707.8 L823.5,707.8 L824.8,707.9 L826.0,708.0 L827.2,707.9 L828.5,708.1 L829.8,708.5 L831.0,708.9 L832.2,708.7 L833.5,708.2 L834.8,708.0 L836.0,708.0 L837.2,708.1 L838.5,708.4 L839.8,708.7 L841.0,708.8 L842.2,708.5 L843.5,708.2 L844.8,708.0 L846.0,707.6 L847.2,706.9 L848.5,706.6 L849.8,706.7 L851.0,706.8 L852.2,707.1 L853.5,707.3 L854.8,707.4 L856.0,707.3 L857.2,707.2 L858.5,707.4 L859.8,707.6 L861.0,707.4 L862.2,707.2 L863.5,707.2 L864.8,707.2 L866.0,707.0 L867.2,706.6 L868.5,706.4 L869.8,706.4 L871.0,706.0 L872.2,705.6 L873.5,705.3 L874.8,705.3 L876.0,705.5 L877.2,705.6 L878.5,705.9 L879.8,706.1 L881.0,706.4 L882.2,706.5 L883.5,706.5 L884.8,706.3 L886.0,706.5 L887.2,707.2 L888.5,707.8 L889.8,708.0 L891.0,707.9 L892.2,707.7 L893.5,707.6 L894.8,707.6 L896.0,707.5 L897.2,707.3 L898.5,707.2 L899.8,707.2 L901.0,707.2 L902.2,707.1 L903.5,707.1 L904.8,707.3 L906.0,707.4 L907.2,707.3 L908.5,707.7 L909.8,709.6 L911.0,711.6 L912.2,712.4 L913.5,712.1 L914.8,711.3 L916.0,711.2 L917.2,711.9 L918.5,712.5 L919.8,712.8 L921.0,712.6 L922.2,712.7 L923.5,714.1 L924.8,715.3 L926.0,715.8 L927.2,715.9 L928.5,715.5 L929.8,715.2 L931.0,715.2 L932.2,715.4 L933.5,715.8 L934.8,716.1 L936.0,716.1 L937.2,715.8 L938.5,715.7 L939.8,715.7 L941.0,715.7 L942.2,715.8 L943.5,715.9 L944.8,716.2 L946.0,716.7 L947.2,717.2 L948.5,717.3 L949.8,717.0 L951.0,717.0 L952.2,717.1 L953.5,716.9 L954.8,717.0 L956.0,717.3 L957.2,717.7 L958.5,718.5 L959.8,719.6 L961.0,719.7 L962.2,719.1 L963.5,718.8 L964.8,718.7 L966.0,718.8 L967.2,718.9 L968.5,718.9 L969.8,719.1 L971.0,719.4 L972.2,719.7 L973.5,719.8 L974.8,719.8 L976.0,719.7 L977.2,719.4 L978.5,719.3 L979.8,719.1 L981.0,718.5 L982.2,718.0 L983.5,717.8 L984.8,717.5 L986.0,717.4 L987.2,717.8 L988.5,718.2 L989.8,718.1 L991.0,717.8 L992.2,717.2 L993.5,716.4 L994.8,716.0 L996.0,715.9 L997.2,715.2 L998.5,714.7 L999.8,714.9 L1001.0,714.8 L1002.2,714.7 L1003.5,714.8 L1004.8,715.1 L1006.0,715.4 L1007.2,715.6 L1008.5,715.2 L1009.8,714.6 L1011.0,714.3 L1012.2,714.3 L1013.5,714.5 L1014.8,714.9 L1016.0,715.3 L1017.2,715.5 L1018.5,715.5 L1019.8,715.6 L1021.0,716.0 L1022.2,716.3 L1023.5,716.3 L1024.8,716.1 L1026.0,716.0 L1027.2,716.3 L1028.5,717.0 L1029.8,717.5 L1031.0,717.5 L1032.2,717.0 L1033.5,716.4 L1034.8,716.0 L1036.0,715.6 L1037.2,715.5 L1038.5,715.6 L1039.8,715.7 L1041.0,715.4 L1042.2,715.0 L1043.5,714.8 L1044.8,714.5 L1046.0,714.2 L1047.2,713.7 L1048.5,713.5 L1049.8,713.7 L1051.0,714.0 L1052.2,713.9 L1053.5,713.4 L1054.8,712.8 L1056.0,712.3 L1057.2,712.3 L1058.5,712.6 L1059.8,712.8 L1061.0,712.8 L1062.2,712.5 L1063.5,712.7 L1064.8,713.0 L1066.0,713.1 L1067.2,713.1 L1068.5,713.3 L1069.8,713.5 L1071.0,713.4 L1072.2,713.2 L1073.5,712.8 L1074.8,712.4 L1076.0,712.3 L1077.2,712.4 L1078.5,712.4 L1079.8,712.4 L1081.0,712.3 L1082.2,712.1 L1083.5,712.1 L1084.8,712.5 L1086.0,712.8 L1087.2,713.1 L1088.5,713.2 L1089.8,713.2 L1091.0,713.5 L1092.2,714.7 L1093.5,716.1 L1094.8,716.6 L1096.0,716.0 L1097.2,715.1 L1098.5,715.3 L1099.8,714.7 L1101.0,714.3 L1102.2,714.6 L1103.5,714.7 L1104.8,714.4 L1106.0,714.2 L1107.2,713.7 L1108.5,712.3 L1109.8,710.6 L1111.0,709.8 L1112.2,709.9 L1113.5,710.1 L1114.8,710.6 L1116.0,710.9 L1117.2,711.0 L1118.5,711.3 L1119.8,711.4 L1121.0,711.3 L1122.2,711.3 L1123.5,711.5 L1124.8,711.5 L1126.0,711.5 L1127.2,711.6 L1128.5,711.8 L1129.8,711.7 L1131.0,711.5 L1132.2,711.0 L1133.5,710.9 L1134.8,711.3 L1136.0,711.7 L1137.2,712.0 L1138.5,712.3 L1139.8,712.6 L1141.0,712.8 L1142.2,712.8 L1143.5,712.6 L1144.8,712.3 L1146.0,712.0 L1147.2,711.8 L1148.5,711.7 L1149.8,711.7 L1151.0,711.9 L1152.2,712.1 L1153.5,712.2 L1154.8,712.2 L1156.0,712.1 L1157.2,712.0 L1158.5,711.6 L1159.8,711.4 L1161.0,711.6 L1162.2,711.5 L1163.5,711.4 L1164.8,711.4 L1166.0,711.7 L1167.2,711.5 L1168.5,711.3 L1169.8,711.4 L1171.0,711.5 L1172.2,711.3 L1173.5,711.2 L1174.8,711.1 L1176.0,711.1 L1177.2,711.1 L1178.5,711.3 L1179.8,711.9 L1181.0,712.2 L1182.2,711.6 L1183.5,710.6 L1184.8,710.3 L1186.0,710.8 L1187.2,710.8 L1188.5,710.5 L1189.8,710.2 L1191.0,709.9 L1192.2,709.5 L1193.5,708.7 L1194.8,708.4 L1196.0,708.7 L1197.2,709.0 L1198.5,709.0 L1199.8,709.2 L1201.0,709.6 L1202.2,709.9 L1203.5,710.2 L1204.8,710.4 L1206.0,710.4 L1207.2,710.4 L1208.5,710.3 L1209.8,710.2 L1211.0,710.4 L1212.2,710.7 L1213.5,710.8 L1214.8,710.9 L1216.0,711.0 L1217.2,711.2 L1218.5,711.2 L1219.8,711.1 L1221.0,710.9 L1222.2,710.5 L1223.5,710.2 L1224.8,710.0 L1226.0,709.9 L1227.2,710.1 L1228.5,710.4 L1229.8,710.6 L1231.0,710.6 L1232.2,710.6 L1233.5,710.7 L1234.8,711.1 L1236.0,711.4 L1237.2,711.6 L1238.5,711.7 L1239.8,711.6 L1241.0,711.4 L1242.2,711.2 L1243.5,711.0 L1244.8,710.9 L1246.0,711.0 L1247.2,711.3 L1248.5,711.5 L1249.8,711.6 L1251.0,712.0 L1252.2,712.5 L1253.5,713.0 L1254.8,713.2 L1256.0,713.5 L1257.2,713.9 L1258.5,714.2 L1259.8,714.4 L1261.0,714.6" fill="none" stroke="#4a6dcc" stroke-width="1.35" stroke-linejoin="round"/>
  <!-- handles -->
  <rect x="1255.5" y="698" width="9" height="25" rx="4" fill="#fff" stroke="#e4e7ef" stroke-width=".8"/>
  <path d="M1259,706.5 V714.5 M1261.6,706.5 V714.5" stroke="#a0a7b8" stroke-width="1"/>
  <path d="M86,678.5 H93.5 V719 Q93.5,722.5 90,722.5 H86 Z" fill="#fff"/>
  <!-- watermark logo -->
  <g fill="none" stroke="#d3d7e3" stroke-width="2.1" stroke-linecap="round" stroke-linejoin="round">
    <path d="M1089.1,514.1 A14.3,14.3 0 1 1 1093.7,503.8 C1093.9,509.6 1088.2,510.2 1087.6,505.5 L1087.2,500.6 Q1086.8,496.8 1084.8,499.8 L1079,508.6 L1076,497.6 L1067.8,511.2"/>
  </g>
</svg>

<div class="ylab" style="top:227.2px">0.65</div>
<div class="ylab" style="top:311.2px">0.60</div>
<div class="ylab" style="top:395.4px">0.55</div>
<div class="ylab" style="top:479.4px">0.50</div>
<div class="ylab" style="top:563.6px">0.45</div>
<div class="abs tag">0.46</div>

<div class="xlab" style="left:179.4px">27</div>
<div class="xlab" style="left:347.7px">28</div>
<div class="xlab" style="left:516px">29</div>
<div class="xlab" style="left:684.3px">30</div>
<div class="xlab" style="left:852.3px;font-weight:700">May</div>
<div class="xlab" style="left:1020.4px">1</div>
<div class="xlab" style="left:1188.4px">2</div>

<div class="nlab" style="left:180.8px">27</div>
<div class="nlab" style="left:348.6px">28</div>
<div class="nlab" style="left:517px">29</div>
<div class="nlab" style="left:685px">30</div>
<div class="nlab" style="left:853.5px;font-weight:700">May</div>
<div class="nlab" style="left:1021.3px">1</div>
<div class="nlab" style="left:1189px">2</div>

<div class="wm">CoinMarketCap</div>

<div class="badge">
  <svg class="abs" style="left:0;top:0" width="85" height="85" viewBox="0 0 85 85">
    <rect x="8.6" y="19.8" width="67.3" height="44.2" rx="3" fill="#fff"/>
    <rect x="21.9" y="24.8" width="40.9" height="34.9" fill="#3f62e6"/>
    <g fill="#3f62e6">
      <rect x="11.7" y="24.7" width="6.2" height="4" rx="1"/><rect x="11.7" y="35" width="6.2" height="4" rx="1"/><rect x="11.7" y="45.5" width="6.2" height="4" rx="1"/><rect x="11.7" y="55.8" width="6.2" height="4" rx="1"/>
      <rect x="66.5" y="24.7" width="6.2" height="4" rx="1"/><rect x="66.5" y="35" width="6.2" height="4" rx="1"/><rect x="66.5" y="45.5" width="6.2" height="4" rx="1"/><rect x="66.5" y="55.8" width="6.2" height="4" rx="1"/>
    </g>
  </svg>
  <div class="txt">Daily<br>News<br>Recap</div>
</div>

<div class="cb on"><svg width="19" height="19" viewBox="0 0 19 19"><path d="M4.4,9.6 L7.6,12.8 L14.6,5" fill="none" stroke="#fff" stroke-width="1.2" stroke-linecap="round" stroke-linejoin="round"/></svg></div>
<div class="cl" style="left:71px">USD</div>
<div class="cb off"></div>
<div class="cl" style="left:187px">BTC</div>
<div class="api">Want more data? <a>Check out our API</a></div>
</body>
</html>
